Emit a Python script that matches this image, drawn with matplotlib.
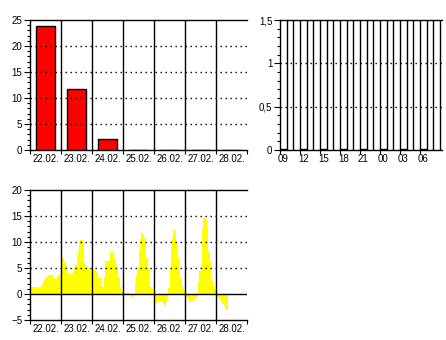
import matplotlib
matplotlib.use("Agg")
import matplotlib.pyplot as plt
import numpy as np
from matplotlib.ticker import MultipleLocator, FixedLocator

plt.rcParams['font.family'] = ['Liberation Sans', 'DejaVu Sans']
plt.rcParams['font.size'] = 7

# ---- data ----
days = ["22.02.", "23.02.", "24.02.", "25.02.", "26.02.", "27.02.", "28.02."]
daily_precip = [23.8, 11.7, 2.05, 0, 0, 0, 0]

hour_labels = ["09", "12", "15", "18", "21", "00", "03", "06"]
hourly_bar_pos = [0, 3, 6, 9, 12, 15, 18, 21]
hourly_bar_vals = [0.012, 0.012, 0.012, 0.012, 0.012, 0.012, 0.012, 0.012]

temp_22 = [1.4, 1.4, 1.4, 1.4, 1.4, 1.4, 1.2, 1.2, 1.3, 2.0, 2.4, 2.8, 3.2, 3.4, 3.6, 3.6, 3.6, 3.6, 3.0, 2.8, 2.8, 3.2, 3.6, 3.6]
temp_23 = [7.3, 7.0, 6.3, 6.0, 5.5, 4.0, 3.9, 3.8, 3.8, 4.2, 5.0, 5.6, 7.2, 8.0, 9.5, 10.4, 10.4, 8.8, 6.0, 4.8, 5.3, 5.0, 4.8, 4.7]
temp_24 = [4.6, 4.6, 4.6, 4.3, 3.7, 3.0, 3.0, 1.7, 1.4, 3.3, 6.3, 6.3, 6.3, 6.3, 8.3, 8.0, 7.5, 6.9, 5.5, 4.9, 3.0, 3.0, 1.4, 0.4]
temp_25 = [0.2, 0.2, 0.2, 0.2, 0.2, 0.0, -0.5, -0.8, -0.4, 2.3, 3.5, 5.0, 8.0, 10.5, 12.0, 11.6, 11.0, 10.0, 7.0, 5.0, 2.5, 1.4, 1.4, 0.0]
temp_26 = [-0.6, -1.8, -1.8, -1.6, -1.4, -1.3, -1.5, -1.9, -2.1, -1.5, -0.8, 1.2, 5.0, 9.0, 11.0, 12.3, 11.7, 10.0, 7.0, 5.0, 3.0, 2.7, 1.4, 0.7]
temp_27 = [0.0, -0.5, -1.0, -1.7, -1.6, -1.4, -1.0, -0.9, -0.5, -0.3, 2.3, 4.5, 6.0, 12.5, 14.7, 14.7, 14.5, 13.0, 8.0, 6.3, 3.0, 2.5, 1.5, 1.0]
temp_28 = [-0.4, -0.5, -0.8, -1.0, -1.5, -2.0, -2.3, -2.7, -3.1]

temps = temp_22 + temp_23 + temp_24 + temp_25 + temp_26 + temp_27 + temp_28

W, H = 446, 340
fig = plt.figure(figsize=(W / 100, H / 100), dpi=100)
DOTS = (0, (1, 2.6))

def ax_px(l, t, r, b):
    return fig.add_axes([l / W, (H - b) / H, (r - l) / W, (b - t) / H])

def style(ax):
    for s in ax.spines.values():
        s.set_linewidth(1.0)
        s.set_color('black')
    ax.spines['right'].set_visible(False)
    ax.tick_params(axis='y', which='major', direction='out', length=4, width=0.8, pad=1.5, labelsize=7)
    ax.tick_params(axis='y', which='minor', direction='out', length=2.2, width=0.8)
    ax.tick_params(axis='x', which='major', direction='out', length=3, width=0.8, labelbottom=False)
    ax.tick_params(axis='x', which='minor', length=0, pad=3, labelsize=7)

def day_axes(ax, ymin, ymax, ymajor, yminor, dotted):
    n = len(days)
    ax.set_xlim(0, n)
    ax.set_ylim(ymin, ymax)
    ax.xaxis.set_major_locator(FixedLocator(np.arange(n + 1)))
    ax.xaxis.set_minor_locator(FixedLocator(np.arange(n) + 0.5))
    ax.set_xticklabels(days, minor=True)
    ax.yaxis.set_major_locator(MultipleLocator(ymajor))
    ax.yaxis.set_minor_locator(MultipleLocator(yminor))
    for i in range(1, n):
        ax.axvline(i, color='black', lw=1.0, zorder=4)
    for v in dotted:
        ax.axhline(v, color='black', lw=1.0, ls=DOTS, zorder=4)
    style(ax)

# ---- top left: daily precipitation ----
ax1 = ax_px(30, 20, 247, 150)
day_axes(ax1, 0, 25, 5, 1, [5, 10, 15, 20])
ax1.bar(np.arange(len(days)) + 0.5, daily_precip, width=0.6, color='#ff0000',
        edgecolor='black', linewidth=1.0, zorder=3)

# ---- top right: hourly ----
ax2 = ax_px(280, 20, 442, 150)
ax2.set_xlim(0, 24.3)
ax2.set_ylim(0, 1.5)
ax2.xaxis.set_major_locator(FixedLocator(hourly_bar_pos))
ax2.xaxis.set_minor_locator(FixedLocator(np.array(hourly_bar_pos) + 0.5))
ax2.set_xticklabels(hour_labels, minor=True)
ax2.yaxis.set_minor_locator(MultipleLocator(0.1))
ax2.set_yticks([0, 0.5, 1, 1.5])
ax2.set_yticklabels(["0", "0,5", "1", "1,5"])
for h in range(1, 25):
    ax2.axvline(h, color='black', lw=1.0, zorder=4)
for v in [0.5, 1.0]:
    ax2.axhline(v, color='black', lw=1.0, ls=DOTS, zorder=4)
ax2.bar(np.array(hourly_bar_pos) + 0.5, hourly_bar_vals, width=1.0, color='white',
        edgecolor='black', linewidth=1.0, zorder=3)
style(ax2)

# ---- bottom: temperature ----
ax3 = ax_px(30, 190, 247, 320)
day_axes(ax3, -5, 20, 5, 1, [5, 10, 15])
x = np.arange(len(temps) + 1) / 24.0
y = np.array(temps + [temps[-1]])
ax3.fill_between(x, 0, y, step='post', color='#ffff00', linewidth=0, zorder=2)
ax3.axhline(0, color='black', lw=1.0, zorder=5)

fig.savefig("out.png", dpi=100)
